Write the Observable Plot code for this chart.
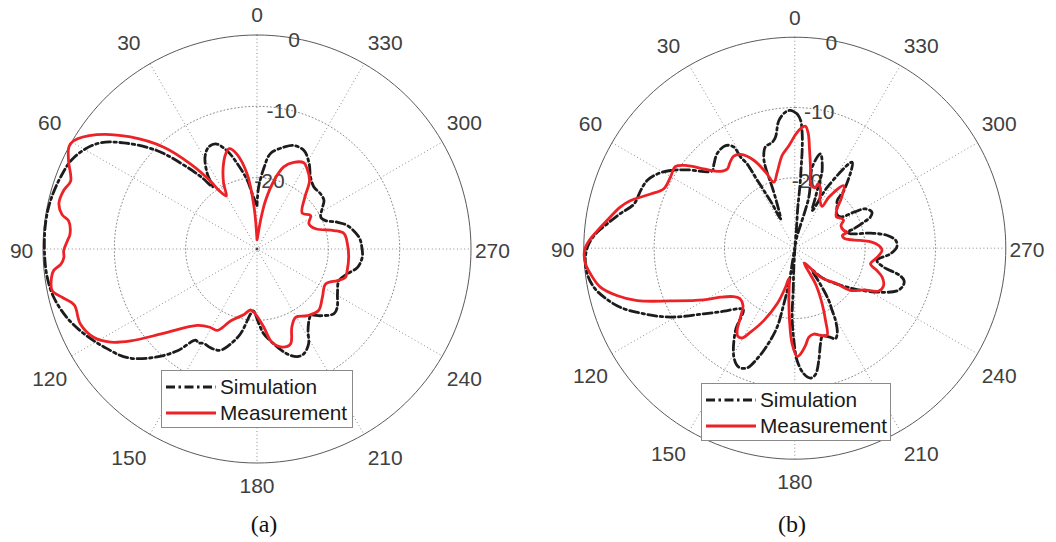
<!DOCTYPE html>
<html>
<head>
<meta charset="utf-8">
<script src="https://cdn.jsdelivr.net/npm/d3@7"></script>
<script src="https://cdn.jsdelivr.net/npm/@observablehq/plot@0.6"></script>
<style>
  html, body { margin: 0; padding: 0; background: #fff; }
  #wrap { position: relative; width: 1056px; height: 542px; overflow: hidden; }
  .panel { position: absolute; top: 0; width: 528px; height: 542px; }
  .panel svg { display: block; }
  .caption { width: 528px; height: 40px; line-height: 44px; text-align: center;
             font-family: "Liberation Serif", "Times New Roman", serif; font-size: 24px; color: #111; }
  .legend { position: absolute; background: #fff; border: 1px solid #8a8a8a; box-sizing: border-box;
            font-family: "Liberation Sans", Arial, sans-serif; font-size: 20.8px; color: #1a1a1a; }
  .legend .row { position: absolute; left: 0; height: 26px; display: flex; align-items: center; }
  .legend svg { display: block; }
</style>
</head>
<body>
<div id="wrap"></div>
<script>
// ---------------- data ----------------
const angleTicks = [0, 30, 60, 90, 120, 150, 180, 210, 240, 270, 300, 330];
const angleTickLabels = ["0", "30", "60", "90", "120", "150", "180", "210", "240", "270", "300", "330"];
const radialTicks = [0, -10, -20];
const radialTickLabels = ["0", "-10", "-20"];
const dbMin = -30, dbMax = 0;
const seriesNames = ["Simulation", "Measurement"];
const panelLabels = ["(a)", "(b)"];

// (a) Simulation
const aSimAngle = [0,5,8,13,17,21.5,25.5,29.5,33.5,35.5,37.5,40.5,45.5,51.5,56.5,63.5,70,77,83,90.5,97.5,103.5,110,116,122.5,130,136.5,142,146,148,150.5,155,160,164.5,169,174.5,176.5,181.5,184.5,190,196,200.5,204,208.5,212,216,219,223.5,230,234,241,249,254.5,259.5,265.5,271,276.5,284.5,288.5,292.5,296.5,302.5,306,311,317.5,323.5,328.5,334.5,340.5,345,352,355,358.5];
const aSimDb = [-23.9,-22.2,-20.3,-17.7,-15.6,-14.15,-14.2,-15.2,-17.4,-19.3,-17.5,-14.9,-10.3,-6.1,-3.2,-1.3,-0.67,-0.26,-0.14,-0.2,-0.32,-0.73,-1.7,-2.97,-4.5,-6.3,-9.05,-11.9,-14.6,-14.5,-14.8,-14.7,-14.9,-16.2,-17.9,-20.9,-21.3,-19.5,-18.1,-16.5,-14.7,-13.9,-13.9,-14.85,-16.5,-17.6,-18.0,-17.1,-15.9,-16.1,-17.1,-17.7,-16.9,-15.7,-15.2,-15.3,-15.6,-16.9,-18.15,-19.6,-20.0,-19.1,-18.4,-18.2,-18.2,-17.4,-16.0,-14.7,-14.6,-15.2,-16.5,-18.5,-21.3];

// (a) Measurement
const aMeasAngle = [0,4,7.5,12,15.5,18,22.5,27,30,33,34.5,38,42.5,48.5,54.5,59.5,61.5,65,70,73,77,80,81.5,85.5,87.5,90.5,92.5,94.5,96,98,101.5,104,107,113,118.5,122.5,126,132,142,149,154,160,168.5,174,178.5,185,189,194.5,199.5,204,209.5,217,225,233.5,243,248.5,252,256.5,265,273,280,283.5,289,296,302,308.5,317,322.5,328,331.5,337,342,346,350,353,357];
const aMeasDb = [-28.7,-24.1,-19.4,-16.4,-15.4,-15.9,-17.6,-19.7,-21.4,-20.2,-18.4,-14.9,-10.65,-6.3,-2.4,-0.15,0,-0.85,-2.2,-1.7,-1.5,-2.25,-3.3,-3.7,-3.4,-2.9,-2.9,-2.4,-1.35,-0.9,-0.7,-1.9,-3.2,-3.1,-4.0,-5.7,-8.1,-12.3,-16.4,-17.2,-17.3,-19.3,-20.6,-21.4,-20.9,-19.0,-16.8,-15.8,-15.9,-18.0,-19.0,-18.3,-17.8,-18.6,-19.2,-17.9,-17.0,-17.0,-17.1,-17.3,-17.6,-18.9,-21.3,-21.9,-21.15,-21.9,-20.2,-17.9,-16.75,-16.25,-16.8,-17.9,-20.1,-23.1,-26.0,-28.3];

// (b) Simulation
const bSimAngle = [359,1.8,3.9,7.1,9.9,12,16.2,18.8,19.9,20.3,21.7,26,27,28.2,29,29.5,30.8,31.1,34,39.4,43.8,47,53.9,58,61.6,65.4,69.5,74.6,78.8,82.6,85.4,88.8,92.5,97,101,104.4,108.7,113.5,119,125.8,131.6,136.5,140,144.2,150.8,154.8,158.3,161.2,164.1,167.4,168.85,170.5,170.4,172,177,177.8,177.8,179.4,181.2,184.1,186.9,189.3,192.1,195,197.5,201,204.2,206.8,209.4,211,213,214.5,216,218,223.5,235.5,242.8,247.5,251,253.5,255.5,258,261.5,266.6,270.6,274.4,277.8,281.2,284.5,287,288.2,290.7,292.3,295,299.1,301.4,304.2,309,315,318.4,319.6,326.3,332,334.2,335.3,337.9,339.5,340.6,344.8,347.9,346.9,344.6,350,354,355.3,355.8,355.3,355.5,355.7,356.3,357.4];
const bSimDb = [-10.9,-10.4,-10.6,-11.7,-14.0,-14.6,-15.0,-16.3,-17.75,-20.7,-23.2,-25.4,-22.9,-20.7,-18.5,-16.2,-14.9,-13.2,-12.4,-12.6,-13.4,-13.9,-11.1,-9.15,-7.8,-6.9,-6.6,-6.3,-4.7,-3.1,-1.8,-0.7,-0.2,-0.26,-0.9,-2.0,-3.8,-6.6,-9.8,-14.05,-16.5,-18.1,-18.6,-15.6,-12.25,-11.3,-11.7,-13.4,-15.6,-18.5,-21.9,-24.9,-27.7,-30,-27.3,-24.0,-20.2,-16.9,-14.0,-12.1,-11.4,-11.8,-13.7,-15.9,-16.9,-16.5,-15.9,-16.6,-18.2,-19.7,-21.1,-22.7,-24.5,-26.0,-24.0,-19.8,-16.3,-14.2,-13.7,-13.8,-14.6,-17.1,-18.2,-16.4,-15.5,-15.6,-16.7,-19.0,-21.8,-22.2,-21.2,-19.5,-18.4,-17.9,-18.5,-20.2,-22.1,-22.3,-21.5,-20.9,-19.2,-15.3,-20.2,-23.8,-24.1,-22.2,-20.2,-18.3,-16.1,-18.2,-20.1,-22.5,-28.5,-29.7,-27,-24.15,-21.3,-18.4,-16.1,-13.7,-11.8];

// (b) Measurement
const bMeasAngle = [0,3.3,7.8,13,17.6,21,25,30,33.6,37,40.4,44,49,52.5,55.6,60.3,65.6,69.4,73.8,76.75,81.6,85,88,90.6,94.3,97.2,101.3,105,108.4,113,119.6,123.4,128.4,133,138,141.8,145,147,149.6,152.2,156.8,162.4,166.6,169,173.5,176.2,178.4,181.25,183,186.3,189,192.5,196.4,200.3,203,206.2,210,213,221.6,229.9,232.8,238.9,243,247,251.6,254.8,258.3,263.8,268.5,271.8,274.5,276.7,281,285,287,290,296,300,304,307,313,317,322,326.3,326.8,332.3,337,340.3,341.1,345.4,349,351.4,353.3,355,357];
const bMeasDb = [-14.0,-15.4,-16.7,-18.9,-20.15,-18.4,-16.2,-14.6,-14.3,-14.7,-15.2,-14.8,-12.8,-10.7,-9.44,-9.64,-9.55,-8.1,-5.7,-4.5,-3.0,-1.8,-0.7,-0.1,-0.16,-0.73,-1.8,-3.9,-6.4,-10.8,-15.1,-17.35,-18.9,-19.4,-19.0,-17.5,-15.7,-15.1,-15.2,-16.5,-18.8,-21.7,-24.3,-25.6,-22.5,-19.2,-16.4,-14.6,-14.9,-16.1,-17.2,-17.5,-17.1,-16.8,-18.8,-21.2,-24.0,-27.5,-24.5,-22.1,-20.1,-18.5,-16.6,-16.3,-16.9,-17.9,-19.0,-18.2,-17.6,-18.05,-19.0,-20.6,-22.8,-23.0,-22.2,-22.6,-22.7,-22.0,-22.3,-22.6,-21.8,-20.3,-18.7,-21.3,-22.9,-22.3,-20.7,-20.3,-20.9,-20.8,-18.3,-15.95,-13.6,-12.6,-12.9];

// ---------------- helpers ----------------
function polar(angle, db) {
  const r = (db - dbMin) / (dbMax - dbMin);
  const t = angle * Math.PI / 180;
  return { x: -r * Math.sin(t), y: r * Math.cos(t) };
}
function polarR(angle, r) {
  const t = angle * Math.PI / 180;
  return { x: -r * Math.sin(t), y: r * Math.cos(t) };
}
function closedSeries(angles, dbs) {
  const pts = angles.map((a, i) => polar(a, dbs[i]));
  pts.push(pts[0]);
  return pts;
}
function ring(db) {
  return d3.range(0, 361, 2).map(a => polar(a, db));
}

const simColor = "#1c1c1c", measColor = "#ec2227";
const simDash = "9,3.5,2.5,3.5";
const labelFont = "Liberation Sans, Arial, sans-serif";

function makePanel(p) {
  const rings = radialTicks.filter(t => t !== dbMax);
  const spokes = angleTicks.filter(a => a < 180).map(a => {
    const s = polar(a, dbMax), e = polar(a + 180, dbMax);
    return { x1: s.x, y1: s.y, x2: e.x, y2: e.y };
  });
  // angle labels sit just outside the rim (a little further out, and nearer the diagonals, off-axis)
  const angleLabelData = angleTicks.map((a, i) => {
    const rad = a * Math.PI / 180;
    const f = 1.1 + 0.045 * Math.abs(Math.sin(2 * rad));
    const a2 = a + 2 * Math.sin(4 * rad);
    return { ...polarR(a2, f), label: angleTickLabels[i] };
  });
  const radialLabelData = radialTicks.map((t, i) => ({ ...polar(350, t), label: radialTickLabels[i] }));
  const origin = polar(0, dbMin);

  return Plot.plot({
    width: 528, height: 502, margin: 0,
    style: { background: "transparent", overflow: "visible" },
    x: { domain: [-1, 1], range: [p.cx - p.R, p.cx + p.R], axis: null },
    y: { domain: [-1, 1], range: [p.cy + p.R, p.cy - p.R], axis: null },
    marks: [
      ...rings.map(t => Plot.line(ring(t), { x: "x", y: "y", stroke: "#8c8c8c", strokeWidth: 1, strokeDasharray: "1,2.6" })),
      Plot.link(spokes, { x1: "x1", y1: "y1", x2: "x2", y2: "y2", stroke: "#8c8c8c", strokeWidth: 1, strokeDasharray: "1,2.6" }),
      Plot.line(ring(dbMax), { x: "x", y: "y", stroke: "#5a5a5a", strokeWidth: 1 }),
      Plot.dot([origin], { x: "x", y: "y", r: 1.3, fill: "#444", stroke: null }),
      Plot.text(radialLabelData, { x: "x", y: "y", text: "label", dy: 2.5, fontSize: 21, fill: "#404040",
        fontFamily: labelFont, textAnchor: "middle" }),
      Plot.text(angleLabelData, { x: "x", y: "y", text: "label", dy: 2, fontSize: 21, fill: "#404040",
        fontFamily: labelFont, textAnchor: "middle" }),
      Plot.line(p.sim, { x: "x", y: "y", stroke: simColor, strokeWidth: 2.8, strokeDasharray: simDash,
        curve: "catmull-rom", strokeLinejoin: "round" }),
      Plot.line(p.meas, { x: "x", y: "y", stroke: measColor, strokeWidth: 2.8,
        curve: "catmull-rom", strokeLinejoin: "round" })
    ]
  });
}

function legendBox(left, top, width) {
  const box = document.createElement("div");
  box.className = "legend";
  Object.assign(box.style, { left: left + "px", top: top + "px", width: width + "px", height: "58px" });
  const styles = [
    { stroke: simColor, dash: simDash },
    { stroke: measColor, dash: null }
  ];
  seriesNames.forEach((name, i) => {
    const row = document.createElement("div");
    row.className = "row";
    row.style.top = (3 + i * 26) + "px";
    const svg = d3.create("svg").attr("width", 58).attr("height", 26);
    svg.append("line").attr("x1", 4).attr("x2", 54).attr("y1", 13).attr("y2", 13)
      .attr("stroke", styles[i].stroke).attr("stroke-width", 2.8)
      .attr("stroke-dasharray", styles[i].dash);
    row.appendChild(svg.node());
    const span = document.createElement("span");
    span.textContent = name;
    row.appendChild(span);
    box.appendChild(row);
  });
  return box;
}

const panels = [
  { left: 0, cx: 256.5, cy: 248.5, R: 214, sim: closedSeries(aSimAngle, aSimDb), meas: closedSeries(aMeasAngle, aMeasDb),
    legend: [161, 370, 192], label: panelLabels[0] },
  { left: 528, cx: 266.3, cy: 247.7, R: 211, sim: closedSeries(bSimAngle, bSimDb), meas: closedSeries(bMeasAngle, bMeasDb),
    legend: [701, 383, 190], label: panelLabels[1] }
];

const wrap = document.getElementById("wrap");
panels.forEach(p => {
  const div = document.createElement("div");
  div.className = "panel";
  div.style.left = p.left + "px";
  div.appendChild(makePanel(p));
  const cap = document.createElement("div");
  cap.className = "caption";
  cap.textContent = p.label;
  div.appendChild(cap);
  wrap.appendChild(div);
});
panels.forEach(p => wrap.appendChild(legendBox(p.legend[0], p.legend[1], p.legend[2])));
</script>
</body>
</html>
